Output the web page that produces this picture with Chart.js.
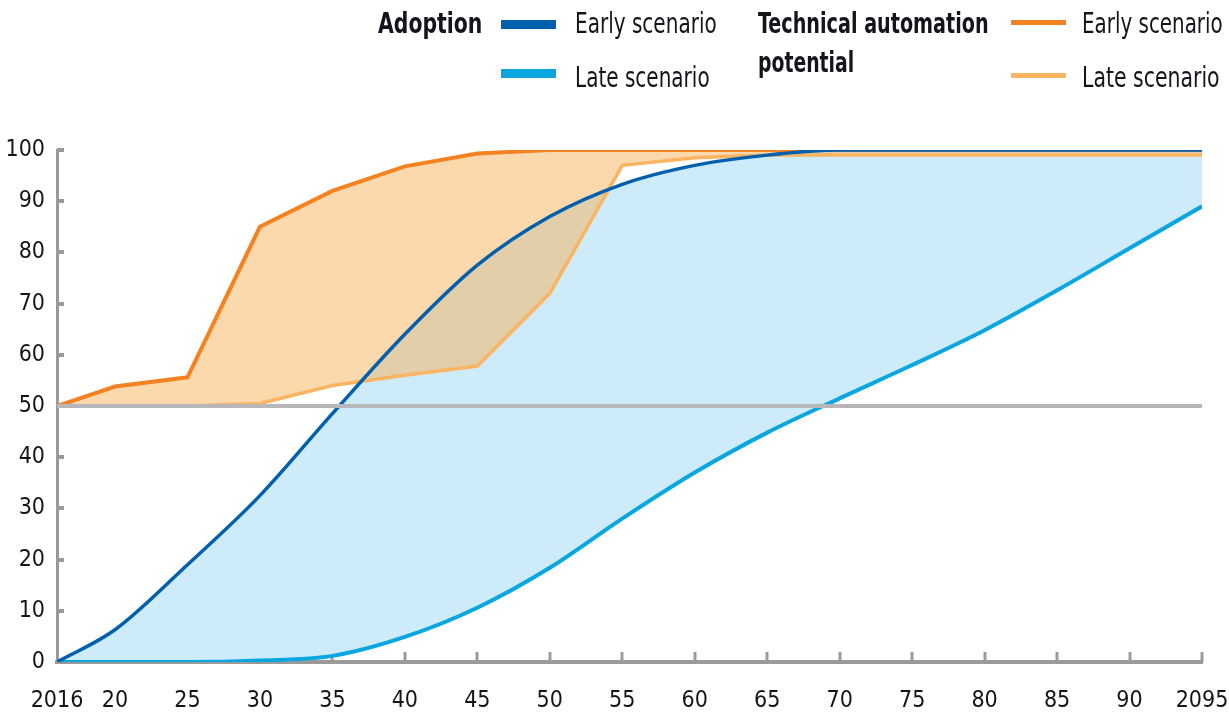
<!DOCTYPE html>
<html>
<head>
<meta charset="utf-8">
<script src="https://cdn.jsdelivr.net/npm/chart.js@4.4.1/dist/chart.umd.min.js"></script>
<style>
  body { margin: 0; background: #fff; }
  #wrap { position: relative; width: 1229px; height: 714px; overflow: hidden; }
  #wrap canvas { position: absolute; left: 0; top: 0; }
  .lg {
    position: absolute;
    font-family: 'Liberation Sans Narrow', 'DejaVu Sans Condensed', sans-serif;
    font-size: 29px;
    line-height: 1;
    color: #14141c;
    white-space: nowrap;
    transform-origin: left top;
  }
  .lg.head { font-weight: bold; }
  .sw { position: absolute; }
</style>
</head>
<body>
<div id="wrap">
  <canvas id="chart" width="1229" height="714"></canvas>

  <div class="lg head" data-w="104" style="left:378px; top:9px;">Adoption</div>
  <div class="sw" style="left:501px; top:20px; width:55px; height:9px; background:#0060ae;"></div>
  <div class="lg" data-w="142" style="left:575px; top:9px;">Early scenario</div>
  <div class="sw" style="left:501px; top:69px; width:55px; height:9px; background:#0aa6e0;"></div>
  <div class="lg" data-w="135" style="left:575px; top:63px;">Late scenario</div>

  <div class="lg head" data-w="231" style="left:758px; top:9px;">Technical automation</div>
  <div class="lg head" data-w="96" style="left:758px; top:48px;">potential</div>
  <div class="sw" style="left:1011px; top:20px; width:55px; height:5px; background:#f58220;"></div>
  <div class="lg" data-w="141" style="left:1082px; top:9px;">Early scenario</div>
  <div class="sw" style="left:1011px; top:73px; width:55px; height:5px; background:#fbb462;"></div>
  <div class="lg" data-w="138" style="left:1082px; top:63px;">Late scenario</div>
</div>

<script>
// values, in % (every 5 years, 2016 first)
const years = [2016, 2020, 2025, 2030, 2035, 2040, 2045, 2050, 2055, 2060, 2065, 2070, 2075, 2080, 2085, 2090, 2095];
const adoptionEarly = [0, 6.3, 19, 32.5, 48.5, 64, 77.5, 87, 93.3, 97, 99, 100, 100, 100, 100, 100, 100];
const adoptionLate = [0, 0, 0, 0.3, 1.2, 4.9, 10.6, 18.4, 28, 37, 44.8, 51.5, 58, 64.8, 72.6, 80.8, 89];
const potentialEarly = [50, 53.8, 55.6, 85, 92, 96.8, 99.3, 100, 100, 100, 100, 100, 100, 100, 100, 100, 100];
const potentialLate = [50, 50, 50, 50.5, 54, 56, 57.8, 72, 97, 98.5, 99, 99, 99, 99, 99, 99, 99];

const refYears = [2016, 2095];
const refLevel = [50, 50];

const xTicks = [2016, 2020, 2025, 2030, 2035, 2040, 2045, 2050, 2055, 2060, 2065, 2070, 2075, 2080, 2085, 2090, 2095];
const xTickLabels = ['2016', '20', '25', '30', '35', '40', '45', '50', '55', '60', '65', '70', '75', '80', '85', '90', '2095'];
const yTicks = [0, 10, 20, 30, 40, 50, 60, 70, 80, 90, 100];

const tickFont = { family: "'Liberation Sans Narrow', 'DejaVu Sans Condensed', sans-serif", size: 23 };
const axisGrey = '#9a9a9a';

// squeeze each legend text to the width it has in the picture
function fitLegend() {
  document.querySelectorAll('.lg').forEach(el => {
    const w = Number(el.dataset.w);
    el.style.transform = 'scaleX(' + (w / el.offsetWidth) + ')';
  });
}
fitLegend();
if (document.fonts) document.fonts.ready.then(fitLegend);

const pts = (xs, ys) => xs.map((x, i) => ({ x: x, y: ys[i] }));

function line(label, values, color, width, smooth, order) {
  return {
    label: label,
    data: pts(years, values),
    borderColor: color,
    borderWidth: width,
    pointRadius: 0,
    fill: false,
    tension: smooth ? 0.4 : 0,
    cubicInterpolationMode: smooth ? 'monotone' : 'default',
    order: order
  };
}

// small inward tick stubs on both axes
const tickMarks = {
  id: 'tickMarks',
  beforeDatasetsDraw(chart) {
    const { ctx, chartArea, scales } = chart;
    ctx.save();
    ctx.strokeStyle = axisGrey;
    ctx.lineWidth = 3;
    xTicks.slice(1).forEach(v => {
      const px = Math.round(scales.x.getPixelForValue(v));
      ctx.beginPath();
      ctx.moveTo(px, chartArea.bottom);
      ctx.lineTo(px, chartArea.bottom - 10);
      ctx.stroke();
    });
    ctx.lineWidth = 4;
    yTicks.slice(1).forEach(v => {
      const py = Math.round(scales.y.getPixelForValue(v));
      ctx.beginPath();
      ctx.moveTo(chartArea.left, py);
      ctx.lineTo(chartArea.left + 7, py);
      ctx.stroke();
    });
    ctx.restore();
  }
};

const datasets = [
  { label: '50', data: pts(refYears, refLevel), borderColor: '#b7b7bb', borderWidth: 4, pointRadius: 0, fill: false, order: 0 },
  line('Adoption early', adoptionEarly, '#0060ae', 3.5, true, 1),
  line('Adoption late', adoptionLate, '#0aa6e0', 4, true, 2),
  line('Potential late', potentialLate, '#fbb462', 3.5, false, 3),
  line('Potential early', potentialEarly, '#f58220', 4, false, 4),
  // fills only
  Object.assign(line('potential band', potentialEarly, 'rgba(0,0,0,0)', 0, false, 5),
    { fill: 3, backgroundColor: 'rgba(247,179,89,0.5)' }),
  Object.assign(line('adoption band', adoptionEarly, 'rgba(0,0,0,0)', 0, true, 6),
    { fill: 2, backgroundColor: '#cdebf8' })
];

new Chart(document.getElementById('chart'), {
  type: 'line',
  data: { datasets: datasets },
  options: {
    responsive: false,
    animation: false,
    layout: { padding: { top: 150, right: 27, left: 0, bottom: 0 } },
    plugins: { legend: { display: false }, tooltip: { enabled: false } },
    scales: {
      x: {
        type: 'linear',
        min: 2016,
        max: 2095,
        afterBuildTicks: s => { s.ticks = xTicks.map(v => ({ value: v })); },
        afterFit: s => { s.height = 52; s.paddingLeft = 0; s.paddingRight = 0; },
        ticks: {
          autoSkip: false,
          maxRotation: 0,
          padding: 25,
          color: '#14141c',
          font: tickFont,
          callback: (v, i) => xTickLabels[i]
        },
        grid: { display: false, drawTicks: false },
        border: { display: true, color: axisGrey, width: 4 }
      },
      y: {
        min: 0,
        max: 100,
        afterBuildTicks: s => { s.ticks = yTicks.map(v => ({ value: v })); },
        afterFit: s => { s.width = 57; s.paddingTop = 0; s.paddingBottom = 0; },
        ticks: {
          padding: 12,
          color: '#14141c',
          font: tickFont
        },
        grid: { display: false, drawTicks: false },
        border: { display: true, color: axisGrey, width: 3 }
      }
    }
  },
  plugins: [tickMarks]
});
</script>
</body>
</html>
